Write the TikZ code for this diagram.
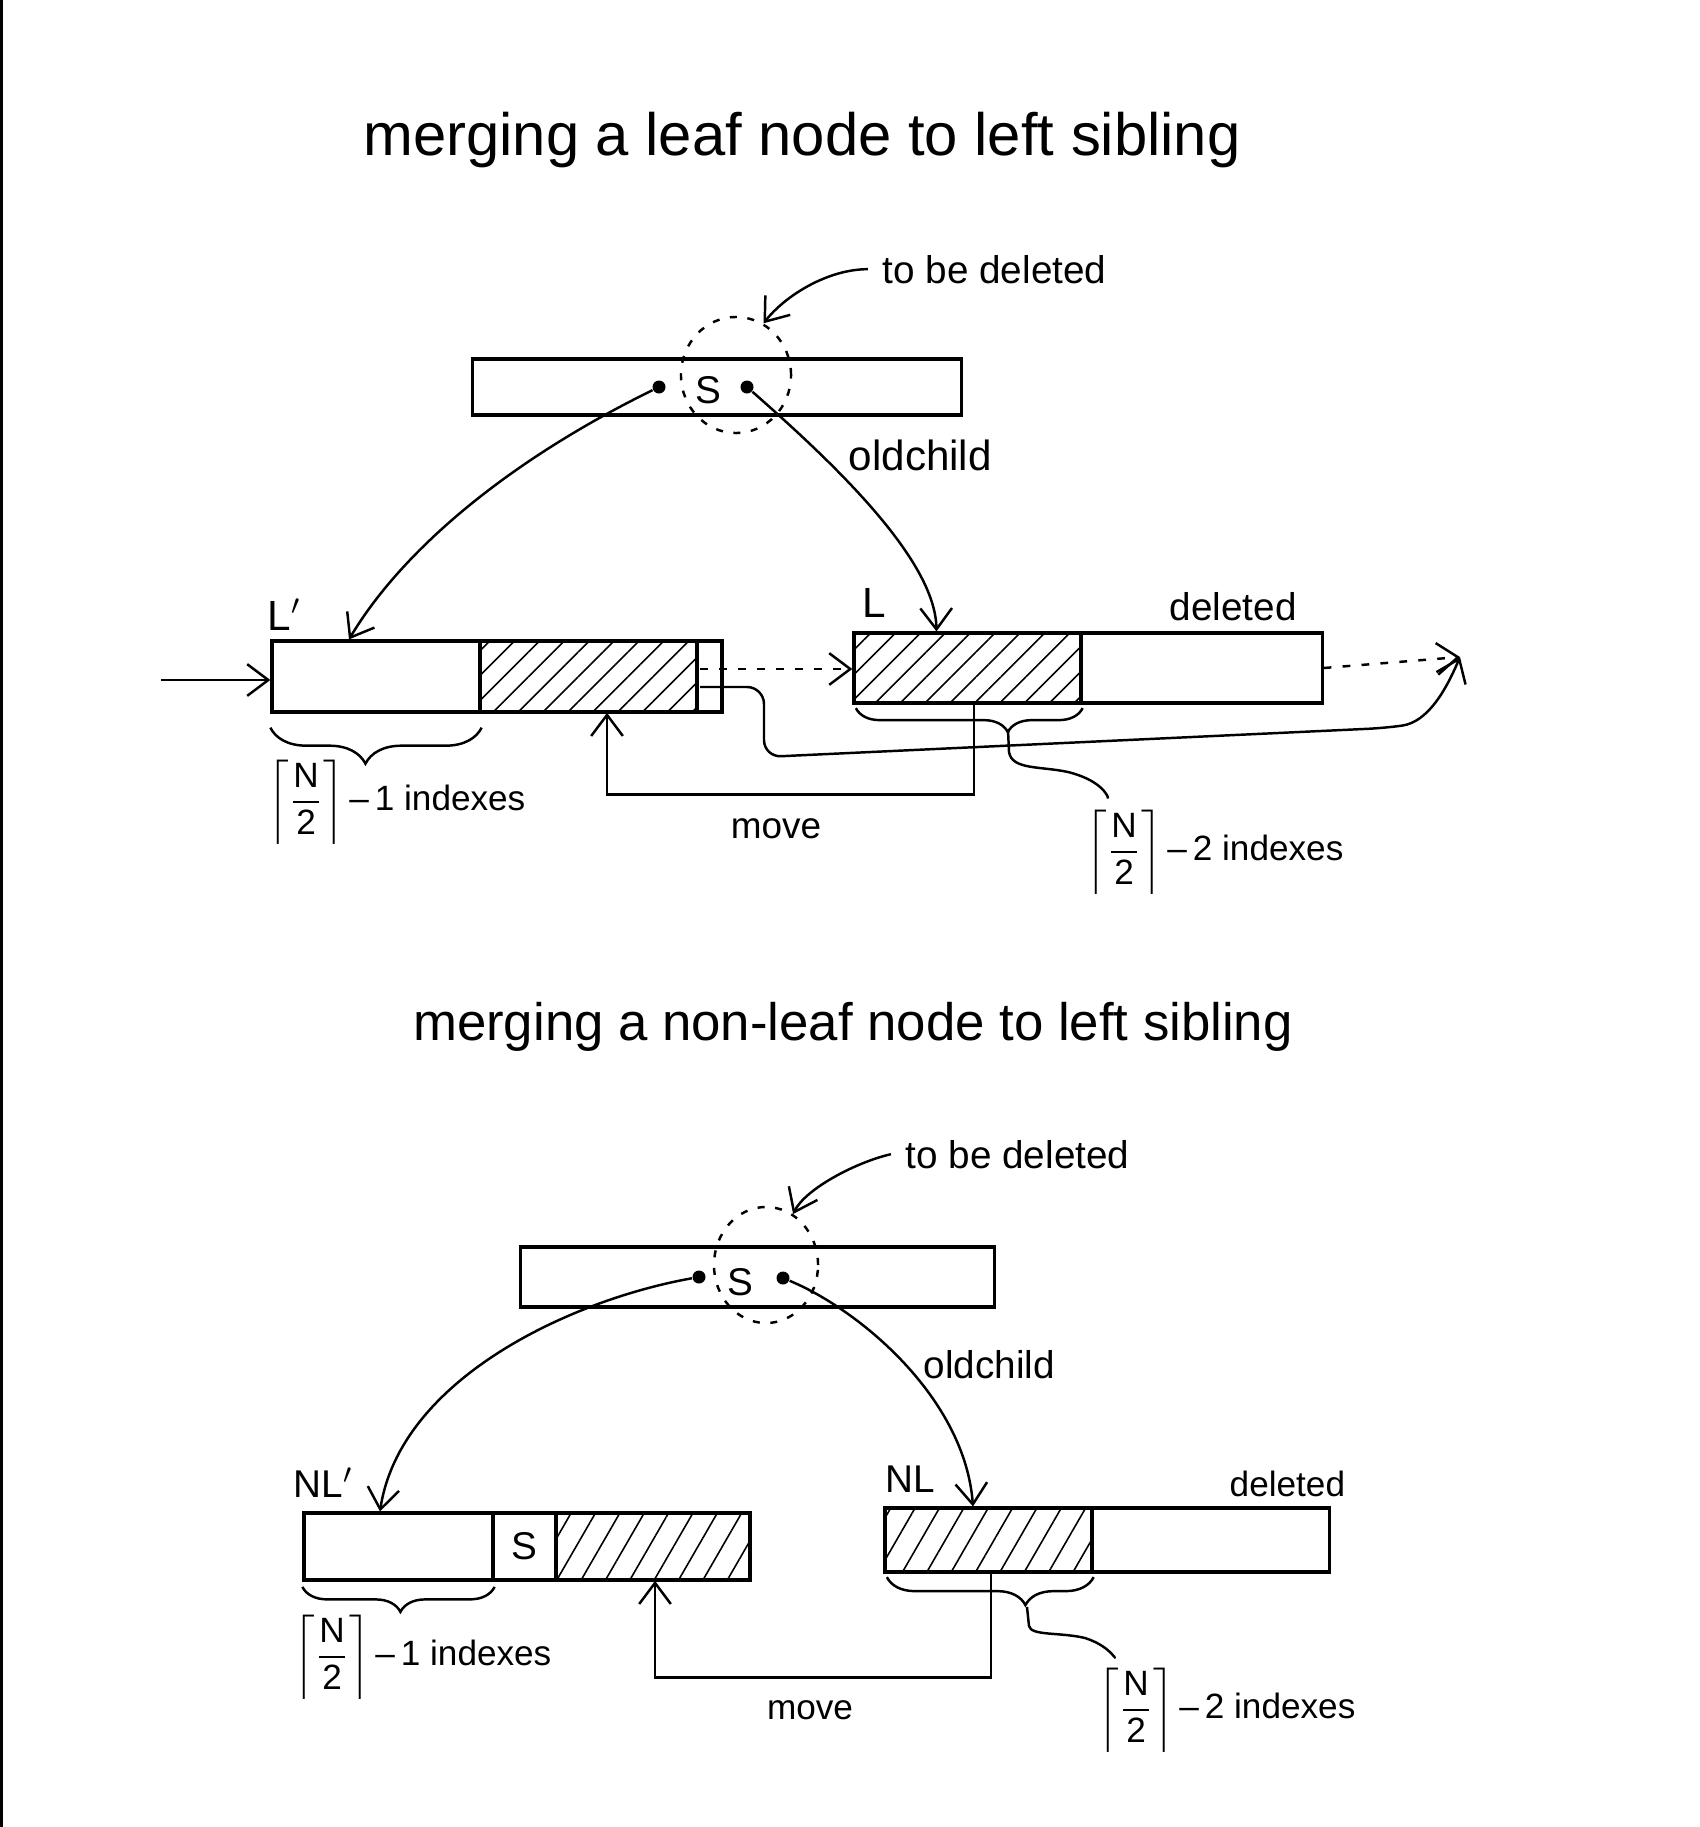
\documentclass[tikz,border=0pt]{standalone}
\usepackage{fontspec}
\setmainfont{Liberation Sans}
\usetikzlibrary{arrows.meta,shapes.geometric,patterns.meta,decorations.pathreplacing}
\begin{document}
\begin{tikzpicture}[x=0.01cm,y=-0.01cm,
  cell/.style={draw,line width=0.9pt,rectangle,inner sep=0pt},
  hatchA/.style={pattern={Lines[angle=45,distance=5pt,line width=0.45pt]}},
  hatchB/.style={pattern={Lines[angle=60,distance=6pt,line width=0.45pt]}},
  dotnode/.style={circle,fill,inner sep=0pt,minimum size=0.13cm},
  delring/.style={draw,ellipse,inner sep=0pt,line width=0.7pt,dash pattern=on 2pt off 3pt},
  arr/.style={line width=0.7pt,-{Straight Barb[length=6pt,width=9pt]}},
  darr/.style={arr,dash pattern=on 2.2pt off 3.2pt},
  conn/.style={line width=0.7pt},
  brc/.style={line width=0.7pt,decorate},
  lbl/.style={inner sep=0pt},
  fA/.style={font=\fontsize{17}{20}\selectfont},
  fB/.style={font=\fontsize{15}{18}\selectfont},
  fL/.style={font=\fontsize{12}{14}\selectfont},
  fM/.style={font=\fontsize{11}{13}\selectfont},
  fS/.style={font=\fontsize{10}{12}\selectfont}
]
\useasboundingbox (0,0) rectangle (1700,1827);
\draw[line width=0.9pt] (1.5,0) -- (1.5,1827);

% ================= top diagram =================
\node[lbl,fA,anchor=base] (T1) at (802,155) {merging a leaf node to left sibling};

\node[cell,minimum width=4.88cm,minimum height=0.56cm] (P1) at (717,387) {};
\node[delring,minimum width=1.10cm,minimum height=1.16cm] (E1) at (736,375) {};
\node[lbl,fM] (S1) at (708,390) {S};
\node[dotnode] (d1) at (659,387) {};
\node[dotnode] (d2) at (747,387) {};

\node[lbl,fM,anchor=base west] (tbd1) at (882,283) {to be deleted};
\node[lbl,fL,anchor=base west] (old1) at (848,470) {oldchild};

\node[cell,minimum width=2.08cm,minimum height=0.71cm] (W1) at (376,676.5) {};
\node[cell,hatchA,minimum width=2.17cm,minimum height=0.71cm] (H1) at (588.5,676.5) {};
\node[cell,minimum width=0.25cm,minimum height=0.71cm] (C1) at (709.5,676.5) {};

\node[cell,hatchA,minimum width=2.27cm,minimum height=0.70cm] (H2) at (967.5,668) {};
\node[cell,minimum width=2.41cm,minimum height=0.70cm] (D2) at (1201.5,668) {};

\node[lbl,fL,anchor=base west] (Lp) at (267,630) {L$'$};
\node[lbl,fL,anchor=base west] (L) at (862,617) {L};
\node[lbl,fM,anchor=base west] (del1) at (1169,620) {deleted};

\node[lbl,fS,anchor=west] (idx1) at (268,802) {$\left\lceil\displaystyle\frac{\mbox{N}}{\mbox{2}}\right\rceil$\,–\,1 indexes};
\node[lbl,fS,anchor=west] (idx2) at (1086,852) {$\left\lceil\displaystyle\frac{\mbox{N}}{\mbox{2}}\right\rceil$\,–\,2 indexes};
\node[lbl,font=\fontsize{10.5}{12}\selectfont,anchor=base] (mv1) at (776,838) {move};

\coordinate (in1) at (161,680);
\coordinate (ds1) at (700,669);
\coordinate (rs1) at (700,687);
\coordinate (out1) at (1460,657);
\coordinate (tip2) at (1008,730);

\draw[arr] ([xshift=-4pt]tbd1.west) .. controls +(-40,0) and +(22,-28) .. (E1.62);
\draw[arr] (d1) .. controls +(-159,78) and +(50,-84) .. ([xshift=-0.27cm]W1.north);
\draw[arr] (d2) .. controls +(83,73) and +(-1,-73) .. ([xshift=-0.31cm]H2.north);
\draw[arr] (in1) -- (in1 -| W1.west);
\draw[darr] (ds1) -- (ds1 -| H2.west);
\draw[darr] (D2.east) -- (out1);
\draw[arr,rounded corners=0.17cm] (rs1) -- (764,687) -- (764,757) -- (1385,728)
   .. controls (1428,722) and (1446,690) .. (out1);
\draw[arr] ([xshift=0.065cm]H2.south) -- ++(0,90) -| ([xshift=0.185cm]H1.south);

\draw[brc,decoration={brace,mirror,amplitude=0.36cm,aspect=0.45}]
  ([yshift=-4pt]W1.south west) -- ([yshift=-4pt]W1.south east);
\draw[brc,decoration={brace,mirror,amplitude=0.24cm,aspect=0.67}]
  ([xshift=1pt,yshift=-1pt]H2.south west) -- ([yshift=-1pt]H2.south east);
\draw[conn] (tip2) -- (1009,752) .. controls (1012,770) and (1040,766) .. (1068,772)
   .. controls (1100,780) and (1108,795) .. ([xshift=0.22cm,yshift=3pt]idx2.north west);

% ================= bottom diagram =================
\node[lbl,fB,anchor=base] (T2) at (853,1040) {merging a non-leaf node to left sibling};

\node[cell,minimum width=4.73cm,minimum height=0.60cm] (P2) at (757.5,1277) {};
\node[delring,minimum width=1.04cm,minimum height=1.16cm] (E2) at (766,1265) {};
\node[lbl,fM] (S2) at (740,1282) {S};
\node[dotnode] (d3) at (699,1277) {};
\node[dotnode] (d4) at (783,1278) {};

\node[lbl,fM,anchor=base west] (tbd2) at (905,1168) {to be deleted};
\node[lbl,fM,anchor=base west] (old2) at (923,1378) {oldchild};

\node[cell,minimum width=1.89cm,minimum height=0.67cm] (W3) at (398.5,1546.5) {};
\node[cell,minimum width=0.63cm,minimum height=0.67cm,font=\fontsize{11}{13}\selectfont] (S3) at (524.5,1546.5) {S};
\node[cell,hatchB,minimum width=1.94cm,minimum height=0.67cm] (H3) at (653,1546.5) {};

\node[cell,hatchB,minimum width=2.07cm,minimum height=0.64cm] (H4) at (988.5,1540) {};
\node[cell,minimum width=2.37cm,minimum height=0.64cm] (D4) at (1210.5,1540) {};

\node[lbl,fM,anchor=base west] (NLp) at (293,1497) {NL$'$};
\node[lbl,fM,anchor=base west] (NL) at (885,1492) {NL};
\node[lbl,fS,anchor=base west] (del2) at (1229,1496) {deleted};

\node[lbl,fS,anchor=west] (idx3) at (294,1657) {$\left\lceil\displaystyle\frac{\mbox{N}}{\mbox{2}}\right\rceil$\,–\,1 indexes};
\node[lbl,fS,anchor=west] (idx4) at (1098,1710) {$\left\lceil\displaystyle\frac{\mbox{N}}{\mbox{2}}\right\rceil$\,–\,2 indexes};
\node[lbl,fS,anchor=base] (mv2) at (810,1719) {move};

\coordinate (tip4) at (1027,1607);

\draw[arr] ([xshift=-4pt]tbd2.west) .. controls +(-35,8) and +(12,-25) .. (E2.62);
\draw[arr] (d3) .. controls +(-129,23) and +(20,-132) .. ([xshift=-0.185cm]W3.north);
\draw[arr] (d4) .. controls +(77,32) and +(-8,-108) .. ([xshift=-0.155cm]H4.north);
\draw[arr] ([xshift=0.025cm]H4.south) -- ++(0,104) -| ([xshift=0.02cm]H3.south);

\draw[brc,decoration={brace,mirror,amplitude=0.25cm,aspect=0.51}]
  ([yshift=-1.5pt]W3.south west) -- ([yshift=-1.5pt]W3.south east);
\draw[brc,decoration={brace,mirror,amplitude=0.28cm,aspect=0.67}]
  ([xshift=1pt,yshift=-1pt]H4.south west) -- ([yshift=-1pt]H4.south east);
\draw[conn] (tip4) -- (1029,1626) .. controls (1031,1636) and (1060,1632) .. (1085,1638)
   .. controls (1110,1646) and (1115,1660) .. ([xshift=0.17cm,yshift=3pt]idx4.north west);
\end{tikzpicture}
\end{document}
